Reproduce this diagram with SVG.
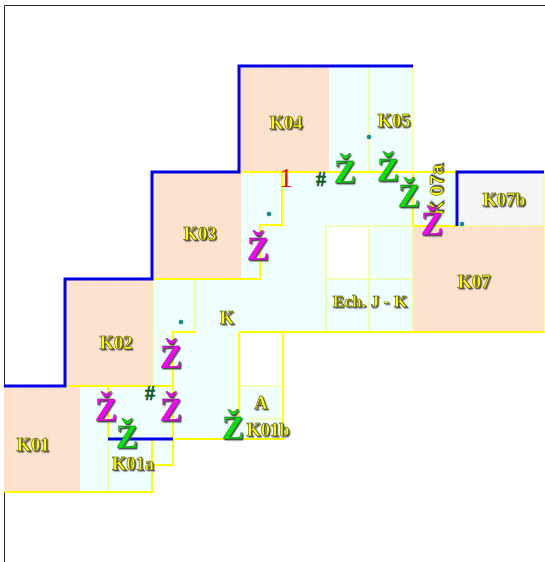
<svg xmlns="http://www.w3.org/2000/svg" width="545" height="562" viewBox="0 0 545 562">
<style>
.peach{fill:url(#stripes)}
.cyan{fill:#efffff}
.grey{fill:url(#dots)}
.y{fill:none;stroke:#ffff00;stroke-width:2}
.p{fill:none;stroke:#f0ff70;stroke-width:1.2}
.b{fill:none;stroke:#0000e6;stroke-width:3}
.lab{font-family:"Liberation Serif",serif;font-weight:bold;font-size:18.5px;fill:#ffff00;stroke:#2a2a00;stroke-width:.45;text-anchor:middle;filter:url(#sh)}
.z{font-family:"Liberation Serif",serif;font-weight:bold;font-size:33px;stroke:#222;stroke-width:.3;text-anchor:middle;filter:url(#sh)}
.m{fill:#ff00ff}
.g{fill:#00e600}
.h{font-family:"Liberation Serif",serif;font-weight:bold;font-size:20px;fill:#107010;stroke:#032;stroke-width:.5;text-anchor:middle}
.d{fill:#009090;stroke:#006060;stroke-width:.5}
</style>
<defs>
<pattern id="stripes" width="3" height="2" patternUnits="userSpaceOnUse"><rect width="3" height="2" fill="#fee4d0"/><rect width="1" height="2" fill="#fcdfc8"/></pattern>
<pattern id="dots" width="3" height="3" patternUnits="userSpaceOnUse"><rect width="3" height="3" fill="#f6f6f6"/><rect width="1" height="1" fill="#ececec"/></pattern>
<filter id="sh" x="-20%" y="-20%" width="150%" height="150%"><feDropShadow dx="1.300" dy="1.300" stdDeviation=".4" flood-color="#555"/></filter>
</defs>
<rect width="545" height="562" fill="#fff"/>
<path d="M4.500 562V5.500H545" fill="none" stroke="#222" stroke-width="1"/>
<g id="areas">
<path class="cyan" d="M329 66H413V172H457V226H413V332H283V439H173V465H152V492H80V386H153V279H241V172H329Z"/>
<rect x="327" y="227" width="42" height="52" fill="#fff"/>
<rect x="239" y="333" width="43" height="53" fill="#fff"/>
</g>
<g id="K01"><rect class="peach" x="4" y="386" width="76" height="106"/><text class="lab" x="33" y="451">K01</text></g>
<g id="K02"><rect class="peach" x="65" y="279" width="88" height="107"/><text class="lab" x="116" y="349">K02</text></g>
<g id="K03"><rect class="peach" x="152" y="172" width="89" height="107"/><text class="lab" x="200" y="240">K03</text></g>
<g id="K04"><rect class="peach" x="239" y="66" width="90" height="106"/><text class="lab" x="286" y="129">K04</text></g>
<g id="K05"><text class="lab" x="394" y="127">K05</text></g>
<g id="K07"><rect class="peach" x="413" y="226" width="131" height="106"/><text class="lab" x="474" y="288">K07</text></g>
<g id="K07b"><rect class="grey" x="457" y="172" width="87" height="54"/><text class="lab" x="504" y="206">K07b</text></g>
<g id="connectors">
<path class="p" d="M369 66V172M413 66V332M369 226V332M326 226V332M326 226H413M326 279H413M195 279V332M153 279V386M239 386H283M250 419H283M152 465H173M108 439V492M152 439V465M4 492H80M413 226H544M544 172V332M80 386H65"/>
<path class="y" d="M241 172H413M282 172V225H260V279H152M195 332H173V439H283V332M239 332V419M239 332H544M413 172H457M413 226H457M65 386H173M108 386V439M173 386V465H152V492H5M152 439V465M413 172V226"/>
<path class="b" d="M4 386H65V279H152V172H239V66H413M108 439H173M457 226V172H544"/>
</g>
<g id="marks">
<circle class="d" cx="181" cy="322" r="2"/><circle class="d" cx="269" cy="214" r="2"/><circle class="d" cx="369" cy="137" r="2"/><circle class="d" cx="462" cy="224" r="2"/>
<text class="h" x="150" y="400">#</text><text class="h" x="321" y="186">#</text>
<text x="286" y="187" font-family="Liberation Serif,serif" font-size="28" fill="#ff0000" text-anchor="middle">1</text>
<text class="lab" x="227" y="324">K</text>
<text class="lab" x="261" y="409">A</text>
<text class="lab" x="268" y="436">K01b</text>
<text class="lab" x="133" y="470">K01a</text>
<text class="lab" style="font-size:17.500px" x="370" y="307">Ech. J - K</text>
<text x="0" y="0" transform="translate(443 215) rotate(-90)" style="font-family:'Liberation Sans',sans-serif;font-weight:bold;font-size:19px;fill:#ffff00;stroke:#2a2a00;stroke-width:.45;filter:url(#sh)">K 07a</text>
<text class="z m" x="106" y="421">Ž</text><text class="z m" x="171" y="421">Ž</text><text class="z m" x="171" y="368">Ž</text><text class="z m" x="258" y="260">Ž</text><text class="z m" x="432" y="235">Ž</text>
<text class="z g" x="127" y="448">Ž</text><text class="z g" x="233" y="439">Ž</text><text class="z g" x="345" y="183">Ž</text><text class="z g" x="388" y="181">Ž</text><text class="z g" x="409" y="207">Ž</text>
</g>
</svg>
